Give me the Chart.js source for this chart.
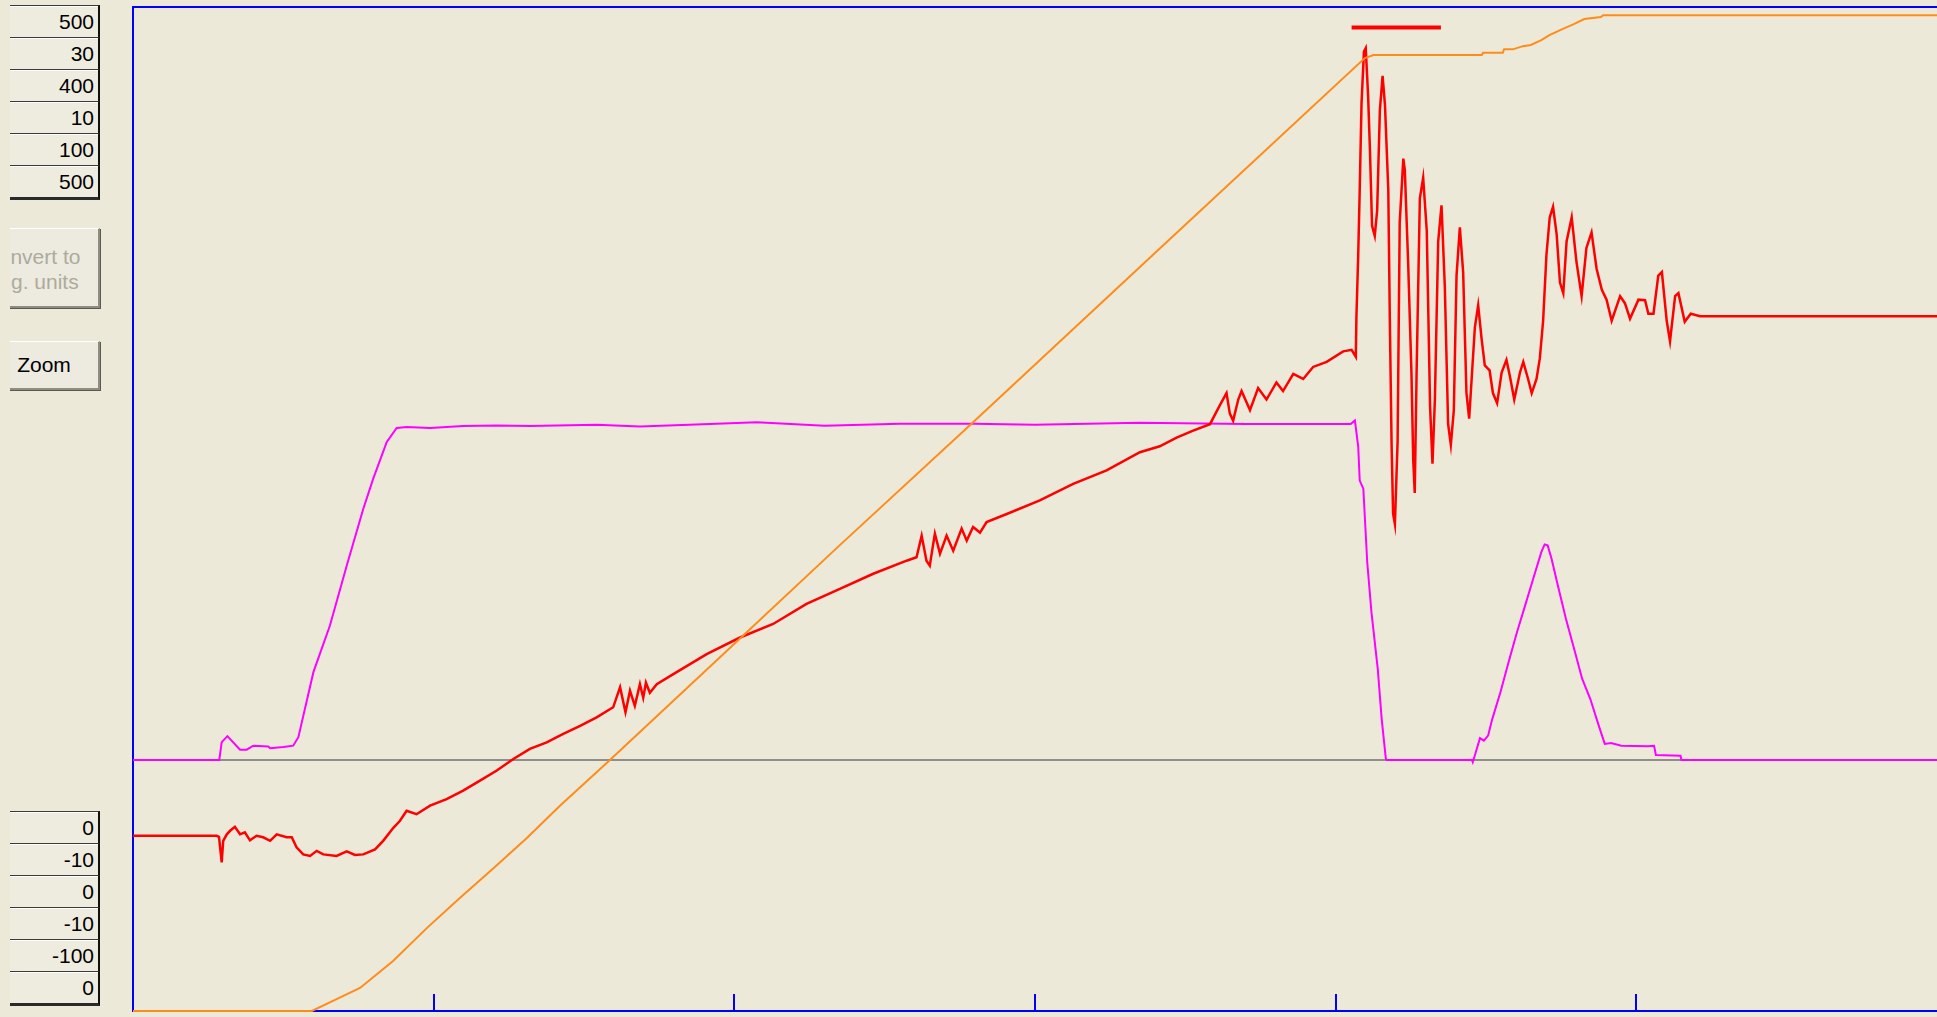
<!DOCTYPE html>
<html>
<head>
<meta charset="utf-8">
<script src="https://cdn.jsdelivr.net/npm/chart.js@4.4.1/dist/chart.umd.min.js"></script>
<style>
  html, body { margin: 0; padding: 0; }
  body { width: 1937px; height: 1017px; overflow: hidden; background: #ECE9D8; position: relative;
         font-family: "Liberation Sans", Arial, sans-serif; }
  #graph { position: absolute; left: 120px; top: 0; }
  .col { position: absolute; left: 10px; width: 90px; }
  .numbox { height: 31px; border-top: 1px solid #3a3a3a; box-shadow: inset 0 1px 0 #fff;
            border-right: 2px solid #111; background: #EEEBDF; text-align: right;
            padding-right: 4px; font-size: 21px; line-height: 32px; color: #000; box-sizing: content-box; }
  .col .numbox:last-child { border-bottom: 3px solid #2a2a2a; }
  .clip { position: absolute; left: 10px; width: 92px; overflow: hidden; }
  .btn { position: absolute; top: 0; background: #EDEADF; box-sizing: border-box;
         border-top: 1px solid #fff; border-left: 1px solid #fff;
         border-right: 2px solid #8f8c80; border-bottom: 2px solid #8f8c80;
         box-shadow: 1px 1px 0 #5c5a50; text-align: center; font-size: 21px; }
</style>
</head>
<body>
<div class="col" id="topBoxes" style="top:5px"></div>
<div class="clip" style="top:228px;height:82px">
  <div class="btn" style="left:-45px;width:135px;height:80px;color:#ADAA9C;line-height:25px;padding-top:15px">Convert to<br>Eng. units</div>
</div>
<div class="clip" style="top:341px;height:51px">
  <div class="btn" style="left:-21px;width:111px;height:49px;color:#000;line-height:46px">Zoom</div>
</div>
<div class="col" id="bottomBoxes" style="top:811px"></div>
<canvas id="graph" width="1817" height="1017"></canvas>
<script>
// channel scale boxes
var topScale = ['500', '30', '400', '10', '100', '500'];
var bottomScale = ['0', '-10', '0', '-10', '-100', '0'];
var xTicks = [1, 2, 3, 4, 5];

// position (orange), 0..500
var posT = [0, 0.595, 0.665, 0.755, 0.865, 0.978, 1.087, 1.197, 1.310, 1.420, 1.580, 2.019, 2.351, 2.778,
    3.415, 4.097, 4.126, 4.486, 4.490, 4.556, 4.560, 4.589, 4.623, 4.649, 4.684, 4.711, 4.752,
    4.792, 4.827, 4.882, 4.890, 6.0];
var posV = [0, 0, 5.0, 11.5, 24.9, 41.4, 56.3, 70.8, 86.2, 102.2, 124.1, 185.5, 232.0, 291.0,
    379.7, 474.6, 476.1, 476.1, 477.2, 477.2, 478.9, 478.9, 480.5, 481.1, 483.5, 486.0, 488.9,
    491.5, 494.0, 495.0, 495.9, 495.9];

// velocity (magenta), -10..30
var velT = [0, 0.287, 0.295, 0.314, 0.356, 0.378, 0.400, 0.450, 0.456, 0.500,
    0.533, 0.550, 0.600, 0.655, 0.711, 0.766, 0.799, 0.844, 0.877, 0.910,
    0.988, 1.098, 1.210, 1.320, 1.542, 1.686, 1.850, 2.075, 2.300, 2.550,
    2.798, 3.000, 3.349, 3.700, 4.050, 4.064, 4.075, 4.080, 4.092, 4.105,
    4.119, 4.140, 4.153, 4.167, 4.170, 4.453, 4.456, 4.466, 4.480, 4.493,
    4.507, 4.521, 4.548, 4.575, 4.603, 4.630, 4.657, 4.684, 4.695, 4.705,
    4.718, 4.739, 4.766, 4.793, 4.820, 4.847, 4.875, 4.895, 4.916, 4.950,
    5.038, 5.059, 5.065, 5.147, 5.150, 6.0];
var velV = [0, 0, 0.71, 0.95, 0.41, 0.41, 0.57, 0.54, 0.47, 0.52,
    0.57, 0.91, 3.50, 5.36, 7.75, 10.01, 11.21, 12.67, 13.23, 13.27,
    13.23, 13.31, 13.33, 13.31, 13.36, 13.29, 13.36, 13.46, 13.32, 13.40,
    13.40, 13.36, 13.44, 13.39, 13.39, 13.53, 12.49, 11.13, 10.81, 7.88,
    5.89, 3.63, 1.64, 0.04, 0, 0, -0.09, 0.31, 0.87, 0.77,
    0.97, 1.64, 2.70, 3.89, 5.09, 6.15, 7.22, 8.28, 8.59, 8.55,
    8.02, 6.95, 5.62, 4.43, 3.23, 2.43, 1.37, 0.64, 0.68, 0.57,
    0.55, 0.57, 0.20, 0.17, 0, 0];

// torque (red), -10..10
var trqT = [0, 0.278, 0.286, 0.295, 0.300, 0.312, 0.323, 0.339, 0.356, 0.372,
    0.389, 0.411, 0.433, 0.456, 0.478, 0.511, 0.528, 0.544, 0.566, 0.589,
    0.611, 0.633, 0.677, 0.711, 0.738, 0.766, 0.805, 0.832, 0.866, 0.888,
    0.910, 0.943, 0.988, 1.043, 1.098, 1.154, 1.210, 1.265, 1.320, 1.376,
    1.431, 1.487, 1.542, 1.597, 1.620, 1.638, 1.653, 1.669, 1.686, 1.697,
    1.706, 1.719, 1.742, 1.797, 1.908, 2.019, 2.129, 2.240, 2.351, 2.462,
    2.573, 2.606, 2.623, 2.639, 2.650, 2.667, 2.684, 2.706, 2.728, 2.756,
    2.773, 2.794, 2.817, 2.839, 2.906, 3.016, 3.127, 3.238, 3.349, 3.415,
    3.471, 3.526, 3.582, 3.615, 3.637, 3.648, 3.659, 3.676, 3.687, 3.715,
    3.742, 3.770, 3.803, 3.825, 3.859, 3.892, 3.925, 3.970, 4.025, 4.053,
    4.067, 4.069, 4.075, 4.080, 4.086, 4.094, 4.100, 4.108, 4.114, 4.121,
    4.130, 4.138, 4.147, 4.156, 4.164, 4.175, 4.180, 4.186, 4.191, 4.197,
    4.206, 4.213, 4.225, 4.230, 4.241, 4.252, 4.258, 4.263, 4.269, 4.280,
    4.291, 4.303, 4.314, 4.322, 4.330, 4.341, 4.352, 4.363, 4.374, 4.383,
    4.393, 4.402, 4.413, 4.424, 4.435, 4.444, 4.463, 4.474, 4.485, 4.496,
    4.512, 4.523, 4.537, 4.552, 4.568, 4.579, 4.594, 4.613, 4.624, 4.640,
    4.652, 4.668, 4.679, 4.690, 4.701, 4.712, 4.723, 4.735, 4.746, 4.757,
    4.768, 4.785, 4.801, 4.818, 4.834, 4.851, 4.868, 4.885, 4.901, 4.918,
    4.946, 4.962, 4.979, 5.007, 5.029, 5.040, 5.057, 5.073, 5.085, 5.101,
    5.112, 5.129, 5.140, 5.161, 5.181, 5.212, 6.000];
var trqV = [-6.51, -6.51, -6.53, -7.04, -6.61, -6.48, -6.41, -6.33, -6.48, -6.44,
    -6.60, -6.51, -6.54, -6.61, -6.48, -6.54, -6.54, -6.74, -6.88, -6.91,
    -6.81, -6.88, -6.91, -6.82, -6.89, -6.88, -6.78, -6.61, -6.35, -6.21,
    -6.01, -6.08, -5.91, -5.78, -5.61, -5.41, -5.21, -4.98, -4.78, -4.65,
    -4.48, -4.32, -4.15, -3.95, -3.55, -4.05, -3.62, -3.92, -3.49, -3.76,
    -3.46, -3.66, -3.49, -3.29, -2.89, -2.56, -2.29, -1.89, -1.59, -1.29,
    -1.03, -0.96, -0.53, -1.03, -1.13, -0.49, -0.89, -0.53, -0.83, -0.39,
    -0.63, -0.36, -0.47, -0.26, -0.10, 0.17, 0.50, 0.77, 1.13, 1.25,
    1.42, 1.56, 1.69, 2.07, 2.31, 1.90, 1.76, 2.18, 2.35, 1.97,
    2.41, 2.18, 2.52, 2.35, 2.69, 2.59, 2.83, 2.93, 3.14, 3.17,
    3.03, 3.82, 5.06, 6.36, 8.08, 9.11, 9.18, 8.22, 7.15, 5.64,
    5.44, 5.95, 7.94, 8.63, 8.05, 6.36, 3.82, 1.28, -0.09, -0.30,
    1.35, 5.71, 6.98, 6.75, 4.92, 2.72, 0.97, 0.32, 2.66, 6.19,
    6.60, 5.54, 2.04, 0.90, 2.18, 5.33, 6.05, 4.44, 1.69, 1.28,
    1.97, 4.65, 5.61, 4.72, 2.31, 1.80, 3.62, 4.06, 3.41, 2.86,
    2.76, 2.31, 2.11, 2.72, 2.97, 2.66, 2.18, 2.72, 2.93, 2.59,
    2.31, 2.59, 3.00, 3.75, 5.06, 5.81, 6.02, 5.47, 4.51, 4.30,
    5.33, 5.81, 4.92, 4.24, 5.20, 5.51, 4.78, 4.37, 4.17, 3.75,
    4.24, 4.10, 3.79, 4.17, 4.16, 3.89, 3.89, 4.65, 4.72, 3.75,
    3.34, 4.24, 4.30, 3.73, 3.89, 3.84, 3.84];

// red window marker above the move end
var markT = [4.053, 4.350];
var markV = [489.8, 489.8];

function buildBoxes(id, labels) {
    var host = document.getElementById(id);
    for (var i in labels) {
        var d = document.createElement('div');
        d.className = 'numbox';
        d.textContent = labels[i];
        host.appendChild(d);
    }
}
buildBoxes('topBoxes', topScale);
buildBoxes('bottomBoxes', bottomScale);

function pts(t, v) {
    var out = [];
    for (var i = 0; i < t.length; i++) out.push({x: t[i], y: v[i]});
    return out;
}

var frame = {
    id: 'frame',
    beforeDatasetsDraw: function(chart) {
        var ctx = chart.ctx, a = chart.chartArea, s = chart.scales;
        ctx.save();
        var y0 = Math.round(s.yVel.getPixelForValue(0));
        ctx.strokeStyle = '#8e8e8e';
        ctx.lineWidth = 2;
        ctx.beginPath(); ctx.moveTo(a.left, y0); ctx.lineTo(a.right + 2, y0); ctx.stroke();
        ctx.strokeStyle = '#0000ff';
        ctx.lineWidth = 2;
        ctx.beginPath();
        ctx.moveTo(a.right + 2, a.top); ctx.lineTo(a.left, a.top);
        ctx.lineTo(a.left, a.bottom); ctx.lineTo(a.right + 2, a.bottom);
        ctx.stroke();
        xTicks.forEach(function(t) {
            var x = Math.round(s.x.getPixelForValue(t));
            ctx.beginPath(); ctx.moveTo(x, a.bottom); ctx.lineTo(x, a.bottom - 17); ctx.stroke();
        });
        ctx.restore();
    }
};

new Chart(document.getElementById('graph'), {
    type: 'line',
    data: {
        datasets: [{
            label: 'position',
            data: pts(posT, posV),
            yAxisID: 'yPos',
            borderColor: 'rgb(255, 140, 26)',
            borderWidth: 2,
            order: 0
        }, {
            label: 'window',
            data: pts(markT, markV),
            yAxisID: 'yPos',
            borderColor: '#ff0000',
            borderWidth: 4,
            borderCapStyle: 'butt',
            order: 1
        }, {
            label: 'torque',
            data: pts(trqT, trqV),
            yAxisID: 'yTrq',
            borderColor: '#ff0000',
            borderWidth: 2.5,
            order: 2
        }, {
            label: 'velocity',
            data: pts(velT, velV),
            yAxisID: 'yVel',
            borderColor: '#ff00ff',
            borderWidth: 2,
            order: 3
        }]
    },
    options: {
        responsive: false,
        animation: false,
        devicePixelRatio: 1,
        layout: {padding: {left: 13, top: 7, right: 0, bottom: 6}},
        plugins: {legend: {display: false}, tooltip: {enabled: false}},
        elements: {point: {radius: 0}, line: {tension: 0, fill: false}},
        datasets: {line: {clip: false}},
        scales: {
            x: {type: 'linear', min: 0, max: 6, display: false},
            yPos: {min: 0, max: 500, display: false},
            yVel: {min: -10, max: 30, display: false},
            yTrq: {min: -10, max: 10, display: false}
        }
    },
    plugins: [frame]
});
</script>
</body>
</html>
